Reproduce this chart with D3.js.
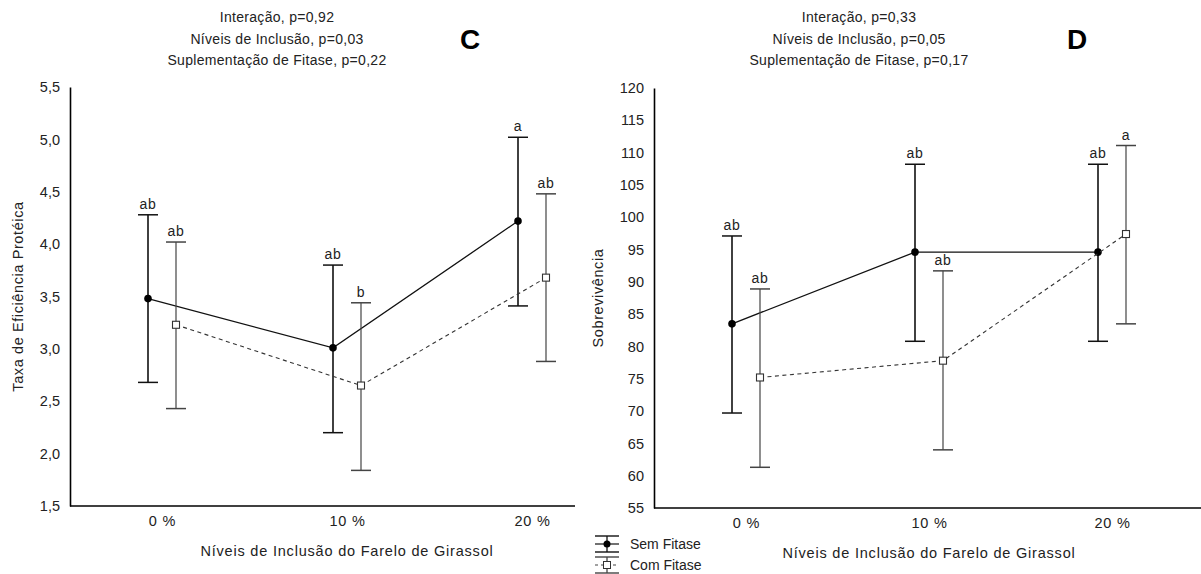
<!DOCTYPE html>
<html><head><meta charset="utf-8">
<script src="https://cdn.jsdelivr.net/npm/d3@7/dist/d3.min.js"></script>
<style>body{margin:0;background:#fff}svg{display:block}text{font-family:"Liberation Sans",Arial,sans-serif}</style>
</head><body><svg id="c" width="1201" height="574"></svg>
<script>
const categories = ["0 %", "10 %", "20 %"];

// Panel C - Taxa de Eficiência Protéica
const cSemMean = [3.48, 3.01, 4.22];
const cSemLow  = [2.68, 2.20, 3.41];
const cSemHigh = [4.28, 3.80, 5.02];
const cComMean = [3.23, 2.65, 3.68];
const cComLow  = [2.43, 1.84, 2.88];
const cComHigh = [4.02, 3.44, 4.48];
const cSemLetters = ["ab", "ab", "a"];
const cComLetters = ["ab", "b", "ab"];
const cTicks = [1.5, 2.0, 2.5, 3.0, 3.5, 4.0, 4.5, 5.0, 5.5];
const cTitles = ["Interação, p=0,92", "Níveis de Inclusão, p=0,03", "Suplementação de Fitase, p=0,22"];

// Panel D - Sobrevivência
const dSemMean = [83.5, 94.6, 94.6];
const dSemLow  = [69.7, 80.8, 80.8];
const dSemHigh = [97.1, 108.2, 108.2];
const dComMean = [75.2, 77.8, 97.4];
const dComLow  = [61.3, 64.0, 83.5];
const dComHigh = [88.9, 91.7, 111.1];
const dSemLetters = ["ab", "ab", "ab"];
const dComLetters = ["ab", "ab", "a"];
const dTicks = [55, 60, 65, 70, 75, 80, 85, 90, 95, 100, 105, 110, 115, 120];
const dTitles = ["Interação, p=0,33", "Níveis de Inclusão, p=0,05", "Suplementação de Fitase, p=0,17"];

const xTitle = "Níveis de Inclusão do Farelo de Girassol";
const legendLabels = ["Sem Fitase", "Com Fitase"];

const svg = d3.select("#c");
const FONT = "Liberation Sans, Arial, sans-serif";

function panel(o) {
  const g = svg.append("g");
  const x = d3.scalePoint().domain(categories).range([o.x0 + 92, o.x0 + 92 + 2 * o.step]);
  const y = d3.scaleLinear().domain(o.domain).range([o.yb, o.yt]);
  const off = 14;

  // titles
  o.titles.forEach((t, i) => g.append("text").attr("x", o.tcx).attr("y", 22 + i * 21.5)
    .attr("text-anchor", "middle").attr("font-size", 14).attr("letter-spacing", 0.3)
    .attr("fill", "#222").text(t));
  g.append("text").attr("x", o.lx).attr("y", 49).attr("text-anchor", "middle")
    .attr("font-size", 28).attr("font-weight", "bold").attr("fill", "#000").text(o.letter);

  // y axis
  const ya = d3.axisLeft(y).tickValues(o.ticks).tickSize(0).tickPadding(10).tickFormat(o.tf);
  const yg = g.append("g").attr("transform", `translate(${o.x0},0)`).call(ya);
  yg.select(".domain").attr("stroke", "#000").attr("stroke-width", 1.6);
  yg.selectAll("text").attr("font-size", 14.5).attr("fill", "#222").style("font-family", FONT);

  // x axis
  const xa = d3.axisBottom(x).tickSize(0).tickPadding(10);
  const xg = g.append("g").attr("transform", `translate(0,${o.yb})`).call(xa);
  xg.select(".domain").attr("d", `M${o.x0},0H${o.x1}`).attr("stroke", "#000").attr("stroke-width", 1.6);
  xg.selectAll("text").attr("font-size", 14.5).attr("letter-spacing", 0.8).attr("fill", "#222").style("font-family", FONT);

  g.append("text").attr("x", x(categories[1])).attr("y", o.yb + 50).attr("text-anchor", "middle")
    .attr("font-size", 14.5).attr("letter-spacing", 0.8).attr("fill", "#222").text(xTitle);
  g.append("text").attr("transform", `translate(${o.ytx},${(o.yt + o.yb) / 2}) rotate(-90)`)
    .attr("text-anchor", "middle").attr("font-size", 14.5).attr("letter-spacing", 0.6)
    .attr("fill", "#222").text(o.ytitle);

  const series = [
    {mean: o.semMean, lo: o.semLow, hi: o.semHigh, let: o.semLet, dx: -off, col: "#111", w: 1.6, dash: null},
    {mean: o.comMean, lo: o.comLow, hi: o.comHigh, let: o.comLet, dx: off, col: "#444", w: 1.2, dash: "4,3.5"}
  ];
  series.forEach((s, si) => {
    const line = d3.line().x((d, i) => x(categories[i]) + s.dx).y(d => y(d));
    g.append("path").attr("d", line(s.mean)).attr("fill", "none")
      .attr("stroke", si === 0 ? "#111" : "#333").attr("stroke-width", si === 0 ? 1.3 : 1.1)
      .attr("stroke-dasharray", s.dash);
    categories.forEach((c, i) => {
      const cx = x(c) + s.dx;
      g.append("line").attr("x1", cx).attr("x2", cx).attr("y1", y(s.lo[i])).attr("y2", y(s.hi[i]))
        .attr("stroke", s.col).attr("stroke-width", s.w);
      [s.lo[i], s.hi[i]].forEach(v => g.append("line").attr("x1", cx - 10).attr("x2", cx + 10)
        .attr("y1", y(v)).attr("y2", y(v)).attr("stroke", s.col).attr("stroke-width", 1.5));
      g.append("text").attr("x", cx).attr("y", y(s.hi[i]) - 6).attr("text-anchor", "middle")
        .attr("font-size", 14).attr("letter-spacing", 0.8).attr("fill", "#222").text(s.let[i]);
      if (si === 0) {
        g.append("circle").attr("cx", cx).attr("cy", y(s.mean[i])).attr("r", 3.8).attr("fill", "#000");
      } else {
        g.append("rect").attr("x", cx - 3.5).attr("y", y(s.mean[i]) - 3.5).attr("width", 7).attr("height", 7)
          .attr("fill", "#fff").attr("stroke", "#333").attr("stroke-width", 1.1);
      }
    });
  });
}

panel({x0: 70, x1: 575, step: 185, yt: 87, yb: 506, domain: [1.5, 5.5], ticks: cTicks,
  tf: d => d3.format(".1f")(d).replace(".", ","), titles: cTitles, tcx: 277, lx: 470, letter: "C",
  ytitle: "Taxa de Eficiência Protéica", ytx: 23,
  semMean: cSemMean, semLow: cSemLow, semHigh: cSemHigh, comMean: cComMean, comLow: cComLow, comHigh: cComHigh,
  semLet: cSemLetters, comLet: cComLetters});

panel({x0: 654, x1: 1201, step: 183, yt: 88, yb: 508, domain: [55, 120], ticks: dTicks,
  tf: d => String(d), titles: dTitles, tcx: 859, lx: 1077, letter: "D",
  ytitle: "Sobrevivência", ytx: 603,
  semMean: dSemMean, semLow: dSemLow, semHigh: dSemHigh, comMean: dComMean, comLow: dComLow, comHigh: dComHigh,
  semLet: dSemLetters, comLet: dComLetters});

// legend
const lg = svg.append("g");
legendLabels.forEach((t, i) => {
  const cy = 544 + i * 21, cx = 607;
  const col = i === 0 ? "#111" : "#444";
  lg.append("line").attr("x1", cx - 12).attr("x2", cx + 12).attr("y1", cy - 8).attr("y2", cy - 8).attr("stroke", col).attr("stroke-width", 1.4);
  lg.append("line").attr("x1", cx - 12).attr("x2", cx + 12).attr("y1", cy + 8).attr("y2", cy + 8).attr("stroke", col).attr("stroke-width", 1.4);
  lg.append("line").attr("x1", cx).attr("x2", cx).attr("y1", cy - 8).attr("y2", cy + 8).attr("stroke", col).attr("stroke-width", 1.3);
  lg.append("line").attr("x1", cx - 12).attr("x2", cx + 12).attr("y1", cy).attr("y2", cy).attr("stroke", col)
    .attr("stroke-width", 1.2).attr("stroke-dasharray", i === 0 ? null : "3,3");
  if (i === 0) lg.append("circle").attr("cx", cx).attr("cy", cy).attr("r", 3.5).attr("fill", "#000");
  else lg.append("rect").attr("x", cx - 3.5).attr("y", cy - 3.5).attr("width", 7).attr("height", 7).attr("fill", "#fff").attr("stroke", "#333");
  lg.append("text").attr("x", 630).attr("y", cy + 5).attr("font-size", 14).attr("fill", "#222").text(t);
});
</script></body></html>
